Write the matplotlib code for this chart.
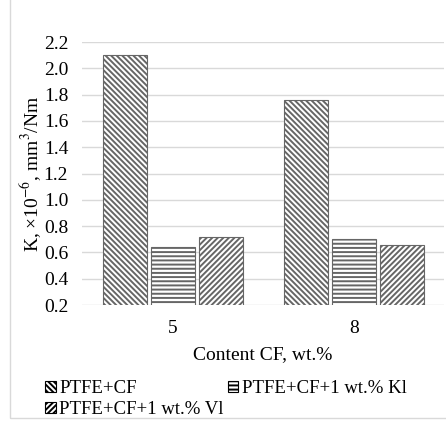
import numpy as np
import matplotlib; matplotlib.use("Agg")
import matplotlib.pyplot as plt
from matplotlib.patches import Rectangle
plt.rcParams.update({"font.family": "Liberation Serif", "font.size": 14,
                     "mathtext.fontset": "stix",
                     "hatch.linewidth": 1.4, "hatch.color": "black"})

categories = ["5", "8"]
series = ["PTFE+CF", "PTFE+CF+1 wt.% Kl", "PTFE+CF+1 wt.% Vl"]
cf = [2.10, 1.76]
cf_kl = [0.64, 0.70]
cf_vl = [0.72, 0.66]
yticks = [0.2, 0.4, 0.6, 0.8, 1.0, 1.2, 1.4, 1.6, 1.8, 2.0, 2.2]
hatches = ["\\" * 6, "-" * 4, "/" * 6]

fig = plt.figure(figsize=(4.46, 4.21), dpi=100)
ax = fig.add_axes([0.184, 0.2755, 0.812, 0.6247])
x = np.arange(len(categories))
w = 0.243; gap = 0.022
bars = []
for i, (vals, lab, h) in enumerate(zip([cf, cf_kl, cf_vl], series, hatches)):
    b = ax.bar(x + (i - 1) * (w + gap), vals, w, color="white", edgecolor="0.4",
               linewidth=0.8, hatch=h, label=lab, zorder=3)
    bars.append(b)
ax.set_xlim(-0.5, 1.5); ax.set_ylim(0.2, 2.2)
ax.set_yticks(yticks); ax.set_yticklabels([f"{v:.1f}" for v in yticks])
ax.set_xticks(x); ax.set_xticklabels(categories)
ax.tick_params(length=0, pad=10)
ax.tick_params(axis="x", pad=11)
ax.grid(axis="y", color="0.85", lw=1); ax.set_axisbelow(True)
for s in ax.spines.values(): s.set_visible(False)
ax.set_ylabel("K, ×10$^{-6}$, mm$^3$/Nm", labelpad=0)
ax.set_xlabel("Content CF, wt.%", labelpad=6)

order = [0, 2, 1]
leg = fig.legend([bars[i] for i in order], [series[i] for i in order], ncol=2,
                 loc="upper left", bbox_to_anchor=(0.085, 0.115), frameon=False,
                 fontsize=13.5, handlelength=0.55, handleheight=0.55, handletextpad=0.2,
                 columnspacing=0.2, labelspacing=0.2, borderaxespad=0)
for p in leg.get_patches():
    p.set_edgecolor("black")

fig.add_artist(Rectangle((10/446, 3/421), 1.0, 1.0, transform=fig.transFigure,
                         fill=False, edgecolor="0.85", lw=1))
fig.savefig("out.png", dpi=100)
